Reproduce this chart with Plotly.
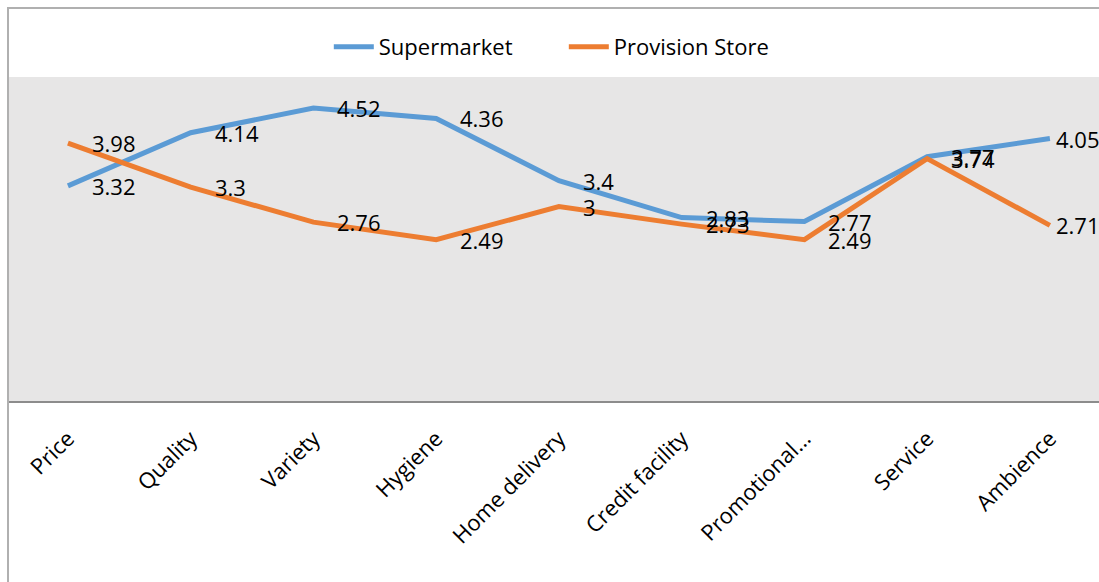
import plotly.graph_objects as go

categories = ["Price", "Quality", "Variety", "Hygiene", "Home delivery",
              "Credit facility", "Promotional...", "Service", "Ambience"]
supermarket = [3.32, 4.14, 4.52, 4.36, 3.4, 2.83, 2.77, 3.77, 4.05]
provision = [3.98, 3.3, 2.76, 2.49, 3, 2.73, 2.49, 3.74, 2.71]

series = [("Supermarket", supermarket, "#5b9bd5"),
          ("Provision Store", provision, "#ed7d31")]

FONT = "Open Sans"
fig = go.Figure()
for name, vals, color in series:
    fig.add_trace(go.Scatter(
        x=categories, y=vals, name=name, mode="lines",
        line=dict(color=color, width=5),
    ))

annotations = []
for name, vals, color in series:
    for i, (c, v) in enumerate(zip(categories, vals)):
        annotations.append(dict(
            x=c, y=v, xref="x", yref="y", text=f"{v:g}", showarrow=False,
            xanchor="left", yanchor="middle",
            xshift=4 if i == len(categories) - 1 else 22,
            font=dict(family=FONT, size=22, color="#000000"),
        ))

fig.update_layout(
    width=1099, height=582,
    margin=dict(l=9, r=0, t=77, b=181),
    paper_bgcolor="#ffffff",
    plot_bgcolor="#e7e6e6",
    font=dict(family=FONT, size=22, color="#000000"),
    showlegend=True,
    legend=dict(orientation="h", x=0.509, xanchor="center", y=1.093, yanchor="middle",
                font=dict(family=FONT, size=22, color="#000000"),
                bgcolor="rgba(0,0,0,0)", itemwidth=40, tracegroupgap=0,
                entrywidth=180, entrywidthmode="pixels"),
    xaxis=dict(
        type="category", range=[-0.48, 8.40], showgrid=False, zeroline=False,
        showline=True, linecolor="#8c8c8c", linewidth=2, ticks="",
        tickangle=-45, tickfont=dict(family=FONT, size=22, color="#000000"),
        ticklabelstandoff=14, automargin=False,
    ),
    yaxis=dict(range=[0, 5], showgrid=False, zeroline=False, showticklabels=False,
               showline=False, ticks=""),
    annotations=annotations,
    shapes=[dict(type="rect", xref="paper", yref="paper",
                 x0=-0.0009, x1=1.05, y0=-0.7, y1=1.213,
                 line=dict(color="#b0b0b0", width=2), fillcolor="rgba(0,0,0,0)",
                 layer="above")],
)

fig.write_html("out.html")
